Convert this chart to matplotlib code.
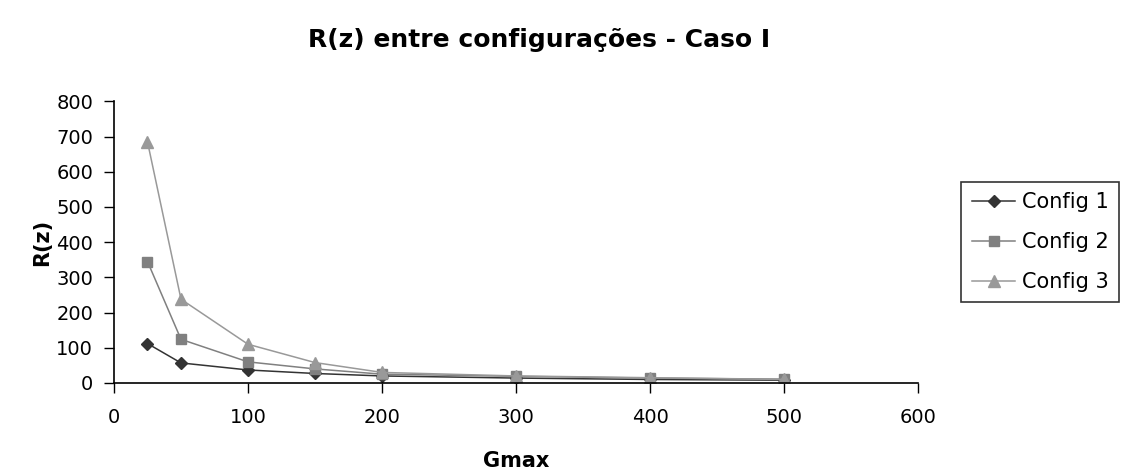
import matplotlib
matplotlib.use("Agg")
import matplotlib.pyplot as plt

plt.rcParams['font.family'] = ['DejaVu Sans']

gmax = [25, 50, 100, 150, 200, 300, 400, 500]
config1 = [112, 57, 37, 27, 20, 14, 10, 8]
config2 = [345, 124, 60, 40, 25, 19, 14, 11]
config3 = [685, 238, 110, 58, 30, 20, 15, 10]
series_names = ["Config 1", "Config 2", "Config 3"]
x_ticks = [0, 100, 200, 300, 400, 500, 600]
y_ticks = [0, 100, 200, 300, 400, 500, 600, 700, 800]

fig = plt.figure(figsize=(11.23, 4.75), dpi=100)
ax = fig.add_axes([0.1015, 0.1937, 0.716, 0.593])

ax.plot(gmax, config1, color="#333333", lw=1.1, marker="D", ms=6.5, label=series_names[0])
ax.plot(gmax, config2, color="#808080", lw=1.1, marker="s", ms=7, label=series_names[1])
ax.plot(gmax, config3, color="#999999", lw=1.1, marker="^", ms=8, label=series_names[2])

ax.set_xlim(0, 600)
ax.set_ylim(0, 800)
ax.set_xticks(x_ticks)
ax.set_yticks(y_ticks)
ax.tick_params(axis="both", direction="out", length=7, width=1, labelsize=14)
ax.tick_params(axis="x", pad=11)
ax.tick_params(axis="y", pad=8)
for side in ("top", "right"):
    ax.spines[side].set_visible(False)
for side in ("left", "bottom"):
    ax.spines[side].set_linewidth(1.2)

ax.set_xlabel("Gmax", fontsize=15, fontweight="bold", labelpad=17)
ax.set_ylabel("R(z)", fontsize=15, fontweight="bold", labelpad=3)
fig.suptitle("R(z) entre configurações - Caso I", x=0.48, y=0.94,
             fontsize=18, fontweight="bold")

leg = ax.legend(loc="center left", bbox_to_anchor=(0.856, 0.49),
                bbox_transform=fig.transFigure, frameon=True, fancybox=False,
                edgecolor="black", fontsize=15, handlelength=2.1,
                labelspacing=0.95, borderpad=0.5, handletextpad=0.3,
                borderaxespad=0)
leg.get_frame().set_linewidth(1.2)

fig.savefig("out.png", dpi=100)
